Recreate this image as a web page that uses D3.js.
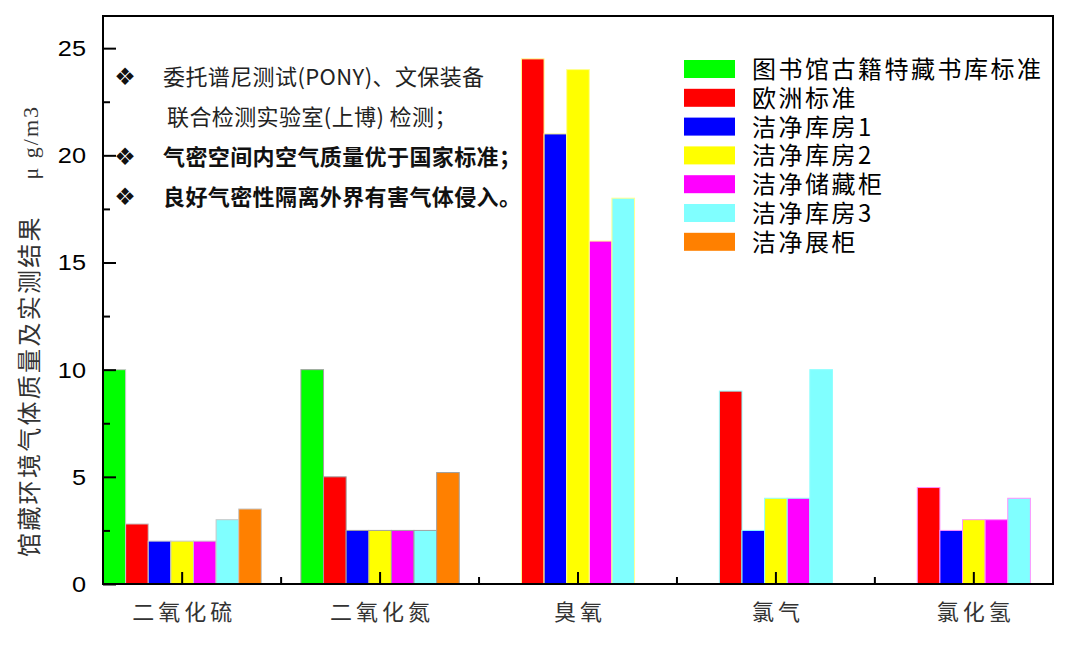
<!DOCTYPE html>
<html><head><meta charset="utf-8">
<script src="https://cdn.jsdelivr.net/npm/d3@7"></script>
<style>body{margin:0;background:#fff}svg{display:block}</style>
</head><body><svg id="c" width="1080" height="647"></svg>
<script>
// ---- data ----
const categories = ["二氧化硫", "二氧化氮", "臭氧", "氯气", "氯化氢"];
const seriesNames = ["图书馆古籍特藏书库标准", "欧洲标准", "洁净库房1", "洁净库房2", "洁净储藏柜", "洁净库房3", "洁净展柜"];
const libraryStandard = [10, 10, null, null, null];
const europeStandard = [2.8, 5, 24.5, 9, 4.5];
const cleanStore1 = [2, 2.5, 21, 2.5, 2.5];
const cleanStore2 = [2, 2.5, 24, 4, 3];
const cleanCabinet = [2, 2.5, 16, 4, 3];
const cleanStore3 = [3, 2.5, 18, 10, 4];
const cleanShowcase = [3.5, 5.2, null, null, null];
const seriesValues = [libraryStandard, europeStandard, cleanStore1, cleanStore2, cleanCabinet, cleanStore3, cleanShowcase];
const seriesColors = ["#00ff00", "#ff0000", "#0000ff", "#ffff00", "#ff00ff", "#80ffff", "#ff8000"];
const groupBorder = ["#c8c8c8", "#a0a0a0", "#ffff90", "#90ffff", "#ff90ff"];
const yTicks = [0, 5, 10, 15, 20, 25];
const yMinorTicks = [2.5, 7.5, 12.5, 17.5, 22.5];
const yTitle = "馆藏环境气体质量及实测结果";
const yUnit = "μ g/m3";
const notes = [
  {bullet: true, text: "委托谱尼测试(PONY)、文保装备", bold: false},
  {bullet: false, text: "联合检测实验室(上博) 检测；", bold: false},
  {bullet: true, text: "气密空间内空气质量优于国家标准；", bold: true},
  {bullet: true, text: "良好气密性隔离外界有害气体侵入。", bold: true}
];

// ---- layout ----
const L = 103, R = 1053, T = 16, B = 584;
const svg = d3.select("#c");
const cjk = "'Noto Sans CJK SC', 'Noto Sans', sans-serif";

const x = d3.scaleBand().domain(categories).range([L, R]).paddingInner(0.2).paddingOuter(0);
const xs = d3.scaleBand().domain(seriesNames).range([0, x.bandwidth()]).padding(0);
const y = d3.scaleLinear().domain([0, 26.5]).range([B, T]);

// bars
const barData = [];
seriesValues.forEach((vals, si) => vals.forEach((v, ci) => {
  if (v != null) barData.push({s: seriesNames[si], c: categories[ci], v, color: seriesColors[si], ci});
}));
svg.append("g").selectAll("rect").data(barData).join("rect")
  .attr("x", d => x(d.c) + xs(d.s))
  .attr("y", d => y(d.v))
  .attr("width", xs.bandwidth())
  .attr("height", d => y(0) - y(d.v))
  .attr("fill", d => d.color)
  .attr("stroke", d => groupBorder[d.ci])
  .attr("stroke-width", 1);

// left axis ticks (inward)
const gy = svg.append("g").attr("transform", `translate(${L},0)`)
  .call(d3.axisLeft(y).tickValues(yTicks).tickSizeInner(-13).tickSizeOuter(0).tickFormat(""));
gy.select(".domain").remove();
gy.selectAll(".tick line").attr("stroke", "#000").attr("stroke-width", 2);
const gym = svg.append("g").attr("transform", `translate(${L},0)`)
  .call(d3.axisLeft(y).tickValues(yMinorTicks).tickSizeInner(-7).tickSizeOuter(0).tickFormat(""));
gym.select(".domain").remove();
gym.selectAll(".tick line").attr("stroke", "#000").attr("stroke-width", 2);

// y tick labels
svg.append("g").selectAll("text").data(yTicks).join("text")
  .attr("transform", d => `translate(86,${y(d) + 8}) scale(1.15,1)`)
  .attr("text-anchor", "end")
  .attr("font-family", "'Liberation Sans', Arial, sans-serif")
  .attr("font-size", 22)
  .attr("fill", "#000")
  .text(d => d);

// bottom axis ticks
const gx = svg.append("g").attr("transform", `translate(0,${B})`)
  .call(d3.axisBottom(x).tickSizeInner(-12).tickSizeOuter(0).tickFormat(""));
gx.select(".domain").remove();
gx.selectAll(".tick line").attr("stroke", "#000").attr("stroke-width", 2);
const gap = x.step() - x.bandwidth();
svg.append("g").selectAll("line").data(categories.slice(1)).join("line")
  .attr("x1", d => x(d) - gap / 2).attr("x2", d => x(d) - gap / 2)
  .attr("y1", B).attr("y2", B - 7)
  .attr("stroke", "#000").attr("stroke-width", 2);

// x labels
svg.append("g").selectAll("text").data(categories).join("text")
  .attr("x", d => x(d) + x.bandwidth() / 2 + 2)
  .attr("y", 620)
  .attr("text-anchor", "middle")
  .attr("font-family", cjk)
  .attr("font-size", 22)
  .attr("letter-spacing", 4)
  .attr("fill", "#333")
  .text(d => d);

// frame
svg.append("rect").attr("x", L).attr("y", T).attr("width", R - L).attr("height", B - T)
  .attr("fill", "none").attr("stroke", "#000").attr("stroke-width", 2);

// y title
svg.append("text")
  .attr("transform", "translate(38,557) rotate(-90)")
  .attr("font-family", cjk).attr("font-size", 24).attr("letter-spacing", 2.3)
  .attr("fill", "#333").text(yTitle);
svg.append("text")
  .attr("transform", "translate(38,105) rotate(-90)")
  .attr("text-anchor", "end")
  .attr("font-family", "'Liberation Serif', 'DejaVu Serif', serif").attr("font-size", 22).attr("letter-spacing", 2)
  .attr("fill", "#333").text(yUnit);

// notes
const ng = svg.append("g");
notes.forEach((n, i) => {
  const cy = 77 + i * 40;
  if (n.bullet) {
    ng.append("text").attr("x", 125).attr("y", cy + 8).attr("text-anchor", "middle")
      .attr("font-family", "'DejaVu Sans', sans-serif").attr("font-size", 24).attr("fill", "#111").text("❖");
  }
  ng.append("text").attr("x", n.bullet ? 163 : 167).attr("y", cy + 8)
    .attr("font-family", cjk).attr("font-size", 22)
    .attr("letter-spacing", 0.4)
    .attr("font-weight", n.bold ? "bold" : "normal")
    .attr("fill", n.bold ? "#111" : "#222")
    .text(n.text);
});

// legend
const lg = svg.append("g");
seriesNames.forEach((name, i) => {
  const cy = 69 + i * 28.8;
  lg.append("rect").attr("x", 684).attr("y", cy - 9).attr("width", 51).attr("height", 18)
    .attr("fill", seriesColors[i]);
  lg.append("text").attr("x", 752).attr("y", cy + 9)
    .attr("font-family", cjk).attr("font-size", 24).attr("letter-spacing", 2.5)
    .attr("fill", "#000").text(name);
});
</script></body></html>
